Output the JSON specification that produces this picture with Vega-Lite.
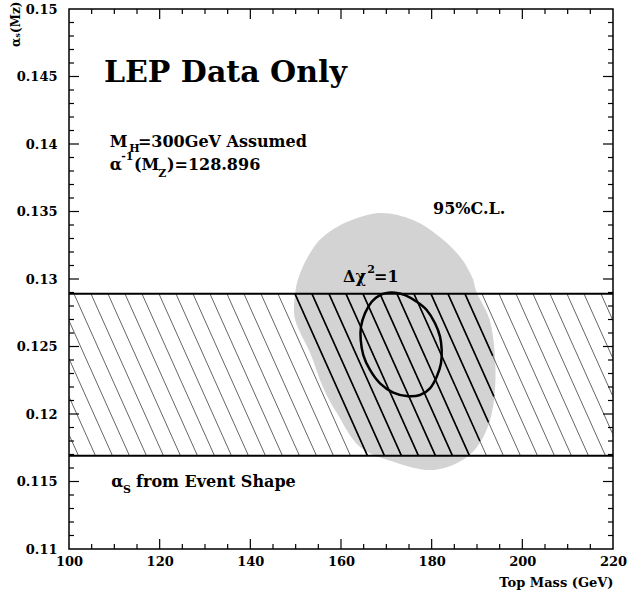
{
  "$schema": "https://vega.github.io/schema/vega-lite/v6.json",
  "width": 544,
  "height": 540,
  "autosize": "none",
  "padding": {"left": 69, "top": 9, "right": 14, "bottom": 45},
  "background": "white",
  "config": {
    "view": {"stroke": "black", "strokeWidth": 1.5},
    "axis": {
      "labelFont": "DejaVu Serif", "labelFontWeight": "bold", "labelFontSize": 13, "labelColor": "black",
      "domain": false, "grid": false,
      "titleFont": "DejaVu Serif", "titleFontWeight": "bold", "titleColor": "black", "labelOverlap": false, "labelFlush": false
    },
    "text": {"font": "DejaVu Serif", "fontWeight": "bold", "color": "black"}
  },
  "datasets": {
    "blob": [
      {"i":1,"x":168.6,"y":0.13489},{"i":2,"x":175.9,"y":0.13437},{"i":3,"x":181.8,"y":0.13311},{"i":4,"x":186.3,"y":0.13163},
      {"i":5,"x":188.9,"y":0.13015},{"i":6,"x":190.0,"y":0.12896},{"i":7,"x":192.8,"y":0.12696},{"i":8,"x":193.9,"y":0.12452},
      {"i":9,"x":194.0,"y":0.12200},{"i":10,"x":192.9,"y":0.11956},{"i":11,"x":190.0,"y":0.11756},{"i":12,"x":185.6,"y":0.11637},
      {"i":13,"x":179.6,"y":0.11585},{"i":14,"x":172.4,"y":0.11637},{"i":15,"x":164.2,"y":0.11756},{"i":16,"x":159.1,"y":0.12007},
      {"i":17,"x":156.0,"y":0.12200},{"i":18,"x":153.2,"y":0.12452},{"i":19,"x":149.9,"y":0.12696},{"i":20,"x":149.9,"y":0.12896},
      {"i":21,"x":151.0,"y":0.13044},{"i":22,"x":153.2,"y":0.13193},{"i":23,"x":156.0,"y":0.13311},{"i":24,"x":161.3,"y":0.13422}
    ],
    "ellipse": [
      {"i":1,"x":170.43,"y":0.12899},{"i":2,"x":168.60,"y":0.12881},{"i":3,"x":166.77,"y":0.12832},{"i":4,"x":165.29,"y":0.12746},
      {"i":5,"x":164.41,"y":0.12647},{"i":6,"x":164.35,"y":0.12548},{"i":7,"x":164.92,"y":0.12437},{"i":8,"x":166.40,"y":0.12326},
      {"i":9,"x":168.60,"y":0.12227},{"i":10,"x":171.54,"y":0.12158},{"i":11,"x":174.49,"y":0.12133},{"i":12,"x":177.43,"y":0.12141},
      {"i":13,"x":179.63,"y":0.12190},{"i":14,"x":181.11,"y":0.12276},{"i":15,"x":182.06,"y":0.12376},{"i":16,"x":182.21,"y":0.12474},
      {"i":17,"x":181.84,"y":0.12573},{"i":18,"x":180.74,"y":0.12672},{"i":19,"x":178.90,"y":0.12770},{"i":20,"x":176.70,"y":0.12832},
      {"i":21,"x":174.12,"y":0.12881},{"i":22,"x":171.91,"y":0.12899}
    ],
    "hatch": [
      {"x0":86.1,"x1":102.1,"y0":0.1289,"y1":0.1169},{"x0":89.85,"x1":105.85,"y0":0.1289,"y1":0.1169},{"x0":93.6,"x1":109.6,"y0":0.1289,"y1":0.1169},{"x0":97.35,"x1":113.35,"y0":0.1289,"y1":0.1169},
      {"x0":101.1,"x1":117.1,"y0":0.1289,"y1":0.1169},{"x0":104.85,"x1":120.85,"y0":0.1289,"y1":0.1169},{"x0":108.6,"x1":124.6,"y0":0.1289,"y1":0.1169},{"x0":112.35,"x1":128.35,"y0":0.1289,"y1":0.1169},
      {"x0":116.1,"x1":132.1,"y0":0.1289,"y1":0.1169},{"x0":119.85,"x1":135.85,"y0":0.1289,"y1":0.1169},{"x0":123.6,"x1":139.6,"y0":0.1289,"y1":0.1169},{"x0":127.35,"x1":143.35,"y0":0.1289,"y1":0.1169},
      {"x0":131.1,"x1":147.1,"y0":0.1289,"y1":0.1169},{"x0":134.85,"x1":150.85,"y0":0.1289,"y1":0.1169},{"x0":138.6,"x1":154.6,"y0":0.1289,"y1":0.1169},{"x0":142.35,"x1":158.35,"y0":0.1289,"y1":0.1169},
      {"x0":146.1,"x1":162.1,"y0":0.1289,"y1":0.1169},{"x0":149.85,"x1":165.85,"y0":0.1289,"y1":0.1169},{"x0":153.6,"x1":169.6,"y0":0.1289,"y1":0.1169},{"x0":157.35,"x1":173.35,"y0":0.1289,"y1":0.1169},
      {"x0":161.1,"x1":177.1,"y0":0.1289,"y1":0.1169},{"x0":164.85,"x1":180.85,"y0":0.1289,"y1":0.1169},{"x0":168.6,"x1":184.6,"y0":0.1289,"y1":0.1169},{"x0":172.35,"x1":188.35,"y0":0.1289,"y1":0.1169},
      {"x0":176.1,"x1":192.1,"y0":0.1289,"y1":0.1169},{"x0":179.85,"x1":195.85,"y0":0.1289,"y1":0.1169},{"x0":183.6,"x1":199.6,"y0":0.1289,"y1":0.1169},{"x0":187.35,"x1":203.35,"y0":0.1289,"y1":0.1169},
      {"x0":191.1,"x1":207.1,"y0":0.1289,"y1":0.1169},{"x0":194.85,"x1":210.85,"y0":0.1289,"y1":0.1169},{"x0":198.6,"x1":214.6,"y0":0.1289,"y1":0.1169},{"x0":202.35,"x1":218.35,"y0":0.1289,"y1":0.1169},
      {"x0":206.1,"x1":222.1,"y0":0.1289,"y1":0.1169},{"x0":209.85,"x1":225.85,"y0":0.1289,"y1":0.1169},{"x0":213.6,"x1":229.6,"y0":0.1289,"y1":0.1169},{"x0":217.35,"x1":233.35,"y0":0.1289,"y1":0.1169}
    ],
    "bold": [
      {"x0":149.85,"x1":165.85,"y0":0.1289,"y1":0.1169},{"x0":153.6,"x1":169.6,"y0":0.1289,"y1":0.1169},{"x0":157.35,"x1":173.35,"y0":0.1289,"y1":0.1169},
      {"x0":161.1,"x1":177.1,"y0":0.1289,"y1":0.1169},{"x0":164.85,"x1":180.85,"y0":0.1289,"y1":0.1169},{"x0":168.6,"x1":184.6,"y0":0.1289,"y1":0.1169},
      {"x0":172.35,"x1":188.35,"y0":0.1289,"y1":0.1169},{"x0":176.1,"x1":190.63,"y0":0.1289,"y1":0.1180},{"x0":179.85,"x1":192.52,"y0":0.1289,"y1":0.1194},
      {"x0":183.6,"x1":193.73,"y0":0.1289,"y1":0.1213},{"x0":187.35,"x1":193.48,"y0":0.1289,"y1":0.1243}
    ],
    "band": [{"y":0.1289},{"y":0.1169}],
    "yt": [
      {"v":0.111,"a":100,"b":101.1},{"v":0.112,"a":100,"b":101.1},{"v":0.113,"a":100,"b":101.1},{"v":0.114,"a":100,"b":101.1},
      {"v":0.116,"a":100,"b":101.1},{"v":0.117,"a":100,"b":101.1},{"v":0.118,"a":100,"b":101.1},{"v":0.119,"a":100,"b":101.1},
      {"v":0.121,"a":100,"b":101.1},{"v":0.122,"a":100,"b":101.1},{"v":0.123,"a":100,"b":101.1},{"v":0.124,"a":100,"b":101.1},
      {"v":0.126,"a":100,"b":101.1},{"v":0.127,"a":100,"b":101.1},{"v":0.128,"a":100,"b":101.1},{"v":0.129,"a":100,"b":101.1},
      {"v":0.131,"a":100,"b":101.1},{"v":0.132,"a":100,"b":101.1},{"v":0.133,"a":100,"b":101.1},{"v":0.134,"a":100,"b":101.1},
      {"v":0.136,"a":100,"b":101.1},{"v":0.137,"a":100,"b":101.1},{"v":0.138,"a":100,"b":101.1},{"v":0.139,"a":100,"b":101.1},
      {"v":0.141,"a":100,"b":101.1},{"v":0.142,"a":100,"b":101.1},{"v":0.143,"a":100,"b":101.1},{"v":0.144,"a":100,"b":101.1},
      {"v":0.146,"a":100,"b":101.1},{"v":0.147,"a":100,"b":101.1},{"v":0.148,"a":100,"b":101.1},{"v":0.149,"a":100,"b":101.1},
      {"v":0.111,"a":220,"b":218.9},{"v":0.112,"a":220,"b":218.9},{"v":0.113,"a":220,"b":218.9},{"v":0.114,"a":220,"b":218.9},
      {"v":0.116,"a":220,"b":218.9},{"v":0.117,"a":220,"b":218.9},{"v":0.118,"a":220,"b":218.9},{"v":0.119,"a":220,"b":218.9},
      {"v":0.121,"a":220,"b":218.9},{"v":0.122,"a":220,"b":218.9},{"v":0.123,"a":220,"b":218.9},{"v":0.124,"a":220,"b":218.9},
      {"v":0.126,"a":220,"b":218.9},{"v":0.127,"a":220,"b":218.9},{"v":0.128,"a":220,"b":218.9},{"v":0.129,"a":220,"b":218.9},
      {"v":0.131,"a":220,"b":218.9},{"v":0.132,"a":220,"b":218.9},{"v":0.133,"a":220,"b":218.9},{"v":0.134,"a":220,"b":218.9},
      {"v":0.136,"a":220,"b":218.9},{"v":0.137,"a":220,"b":218.9},{"v":0.138,"a":220,"b":218.9},{"v":0.139,"a":220,"b":218.9},
      {"v":0.141,"a":220,"b":218.9},{"v":0.142,"a":220,"b":218.9},{"v":0.143,"a":220,"b":218.9},{"v":0.144,"a":220,"b":218.9},
      {"v":0.146,"a":220,"b":218.9},{"v":0.147,"a":220,"b":218.9},{"v":0.148,"a":220,"b":218.9},{"v":0.149,"a":220,"b":218.9},
      {"v":0.115,"a":100,"b":102.2},{"v":0.12,"a":100,"b":102.2},{"v":0.125,"a":100,"b":102.2},{"v":0.13,"a":100,"b":102.2},
      {"v":0.135,"a":100,"b":102.2},{"v":0.14,"a":100,"b":102.2},{"v":0.145,"a":100,"b":102.2},
      {"v":0.115,"a":220,"b":217.8},{"v":0.12,"a":220,"b":217.8},{"v":0.125,"a":220,"b":217.8},{"v":0.13,"a":220,"b":217.8},
      {"v":0.135,"a":220,"b":217.8},{"v":0.14,"a":220,"b":217.8},{"v":0.145,"a":220,"b":217.8}
    ],
    "xt": [
      {"v":105,"a":0.11,"b":0.11037},{"v":110,"a":0.11,"b":0.11037},{"v":115,"a":0.11,"b":0.11037},{"v":125,"a":0.11,"b":0.11037},
      {"v":130,"a":0.11,"b":0.11037},{"v":135,"a":0.11,"b":0.11037},{"v":145,"a":0.11,"b":0.11037},{"v":150,"a":0.11,"b":0.11037},
      {"v":155,"a":0.11,"b":0.11037},{"v":165,"a":0.11,"b":0.11037},{"v":170,"a":0.11,"b":0.11037},{"v":175,"a":0.11,"b":0.11037},
      {"v":185,"a":0.11,"b":0.11037},{"v":190,"a":0.11,"b":0.11037},{"v":195,"a":0.11,"b":0.11037},{"v":205,"a":0.11,"b":0.11037},
      {"v":210,"a":0.11,"b":0.11037},{"v":215,"a":0.11,"b":0.11037},
      {"v":105,"a":0.15,"b":0.14963},{"v":110,"a":0.15,"b":0.14963},{"v":115,"a":0.15,"b":0.14963},{"v":125,"a":0.15,"b":0.14963},
      {"v":130,"a":0.15,"b":0.14963},{"v":135,"a":0.15,"b":0.14963},{"v":145,"a":0.15,"b":0.14963},{"v":150,"a":0.15,"b":0.14963},
      {"v":155,"a":0.15,"b":0.14963},{"v":165,"a":0.15,"b":0.14963},{"v":170,"a":0.15,"b":0.14963},{"v":175,"a":0.15,"b":0.14963},
      {"v":185,"a":0.15,"b":0.14963},{"v":190,"a":0.15,"b":0.14963},{"v":195,"a":0.15,"b":0.14963},{"v":205,"a":0.15,"b":0.14963},
      {"v":210,"a":0.15,"b":0.14963},{"v":215,"a":0.15,"b":0.14963},
      {"v":120,"a":0.11,"b":0.11074},{"v":140,"a":0.11,"b":0.11074},{"v":160,"a":0.11,"b":0.11074},{"v":180,"a":0.11,"b":0.11074},{"v":200,"a":0.11,"b":0.11074},
      {"v":120,"a":0.15,"b":0.14926},{"v":140,"a":0.15,"b":0.14926},{"v":160,"a":0.15,"b":0.14926},{"v":180,"a":0.15,"b":0.14926},{"v":200,"a":0.15,"b":0.14926}
    ],
    "labels": [
      {"t":"M","x":109.0,"y":0.13980},
      {"t":"=300GeV Assumed","x":115.2,"y":0.13980},
      {"t":"α","x":109.0,"y":0.13807},
      {"t":"(M","x":114.35,"y":0.13807},
      {"t":")=128.896","x":121.6,"y":0.13807},
      {"t":"95%C.L.","x":180.3,"y":0.13481},
      {"t":"Δχ","x":160.45,"y":0.12978},
      {"t":"=1","x":167.3,"y":0.12978},
      {"t":"α","x":109.3,"y":0.11459},
      {"t":"from Event Shape","x":114.8,"y":0.11459}
    ],
    "subs": [
      {"t":"H","x":113.3,"y":0.13938},
      {"t":"-1","x":111.5,"y":0.13882},
      {"t":"Z","x":119.7,"y":0.13758},
      {"t":"2","x":165.8,"y":0.13044},
      {"t":"S","x":111.9,"y":0.11415}
    ],
    "title": [{"t":"LEP Data Only","x":107.7,"y":0.14459}]
  },
  "layer": [
    {
      "data": {"name": "blob"},
      "mark": {"type": "line", "fill": "#d3d3d3", "strokeWidth": 0, "interpolate": "cardinal-closed"},
      "encoding": {
        "x": {"field": "x", "type": "quantitative", "scale": {"domain": [100, 220], "nice": false, "zero": false},
          "axis": {"orient": "bottom", "values": [100,120,140,160,180,200,220], "ticks": false, "tickSize": 0,
            "labelPadding": 6,
            "title": "Top Mass (GeV)", "titleAnchor": "end", "titleFontSize": 13, "titlePadding": 8}},
        "y": {"field": "y", "type": "quantitative", "scale": {"domain": [0.11, 0.15], "nice": false, "zero": false},
          "axis": {"orient": "left", "values": [0.11,0.115,0.12,0.125,0.13,0.135,0.14,0.145,0.15], "ticks": false, "tickSize": 0,
            "format": ".3~f", "labelPadding": 12,
            "title": "αₛ(Mᴢ)", "titleAnchor": "end", "titleAlign": "right", "titleBaseline": "middle",
            "titleX": -54, "titleY": -8, "titleFontSize": 12}},
        "order": {"field": "i", "type": "quantitative"}
      }
    },
    {
      "data": {"name": "hatch"},
      "mark": {"type": "rule", "stroke": "#222", "strokeWidth": 0.7, "clip": true},
      "encoding": {
        "x": {"field": "x0", "type": "quantitative"},
        "x2": {"field": "x1"},
        "y": {"field": "y0", "type": "quantitative"},
        "y2": {"field": "y1"}
      }
    },
    {
      "data": {"name": "bold"},
      "mark": {"type": "rule", "stroke": "black", "strokeWidth": 1.6, "clip": true},
      "encoding": {
        "x": {"field": "x0", "type": "quantitative"},
        "x2": {"field": "x1"},
        "y": {"field": "y0", "type": "quantitative"},
        "y2": {"field": "y1"}
      }
    },
    {
      "data": {"name": "band"},
      "mark": {"type": "rule", "stroke": "black", "strokeWidth": 2},
      "encoding": {
        "y": {"field": "y", "type": "quantitative"}
      }
    },
    {
      "data": {"name": "ellipse"},
      "mark": {"type": "line", "stroke": "black", "strokeWidth": 2.5, "interpolate": "cardinal-closed"},
      "encoding": {
        "x": {"field": "x", "type": "quantitative"},
        "y": {"field": "y", "type": "quantitative"},
        "order": {"field": "i", "type": "quantitative"}
      }
    },
    {
      "data": {"name": "yt"},
      "mark": {"type": "rule", "stroke": "black", "strokeWidth": 1.2},
      "encoding": {
        "x": {"field": "a", "type": "quantitative"},
        "x2": {"field": "b"},
        "y": {"field": "v", "type": "quantitative"}
      }
    },
    {
      "data": {"name": "xt"},
      "mark": {"type": "rule", "stroke": "black", "strokeWidth": 1.2},
      "encoding": {
        "x": {"field": "v", "type": "quantitative"},
        "y": {"field": "a", "type": "quantitative"},
        "y2": {"field": "b"}
      }
    },
    {
      "data": {"name": "labels"},
      "mark": {"type": "text", "fontSize": 16, "align": "left", "baseline": "alphabetic"},
      "encoding": {
        "x": {"field": "x", "type": "quantitative"},
        "y": {"field": "y", "type": "quantitative"},
        "text": {"field": "t"}
      }
    },
    {
      "data": {"name": "subs"},
      "mark": {"type": "text", "fontSize": 11, "align": "left", "baseline": "alphabetic"},
      "encoding": {
        "x": {"field": "x", "type": "quantitative"},
        "y": {"field": "y", "type": "quantitative"},
        "text": {"field": "t"}
      }
    },
    {
      "data": {"name": "title"},
      "mark": {"type": "text", "fontSize": 30, "align": "left", "baseline": "alphabetic"},
      "encoding": {
        "x": {"field": "x", "type": "quantitative"},
        "y": {"field": "y", "type": "quantitative"},
        "text": {"field": "t"}
      }
    }
  ]
}
